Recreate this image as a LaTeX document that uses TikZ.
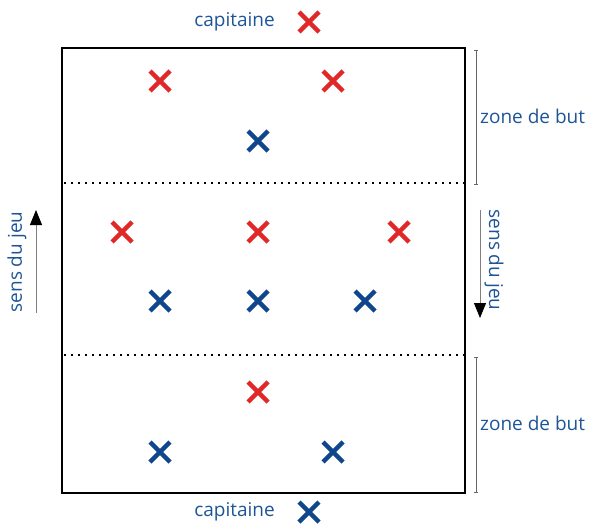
\documentclass[tikz,border=0pt]{standalone}
\usepackage{fontspec}
\setmainfont{Open Sans}
\usepackage{xcolor}
\usetikzlibrary{positioning}
\usetikzlibrary{arrows.meta,shapes.misc}

\definecolor{txtblue}{RGB}{30,85,150}
\definecolor{xred}{RGB}{225,40,40}
\definecolor{xblue}{RGB}{15,70,140}

\tikzset{
	redx/.style={cross out,draw=xred,line width=4.5pt,minimum size=15.5pt,inner sep=0pt},
	bluex/.style={cross out,draw=xblue,line width=4.5pt,minimum size=15.5pt,inner sep=0pt},
	lbl/.style={text=txtblue,font=\fontsize{19}{22}\selectfont,inner sep=0pt},
	zone/.style={gray!80!black,line width=0.8pt,{Bar[width=4pt]}-{Bar[width=4pt]}},
	sens/.style={gray,line width=0.9pt,-{Triangle[black,length=15pt,width=12pt]}}
}

\begin{document}
\begin{tikzpicture}[x=1pt,y=-1pt]
		\useasboundingbox (0,0) rectangle (589,524);
		% terrain
		\node[draw,line width=2pt,minimum width=403pt,minimum height=445pt,inner sep=0pt] (field) at (263.5,270.5) {};
		\coordinate (d1w) at (64,183);
		\coordinate (d1e) at (465,183);
		\coordinate (d2w) at (64,355);
		\coordinate (d2e) at (465,355);
		\draw[line width=2pt,dash pattern=on 2pt off 5pt] (d1w) -- (d1e);
		\draw[line width=2pt,dash pattern=on 2pt off 5pt] (d2w) -- (d2e);
		
		% joueurs
		\node[redx] (r1) at (160,81) {};
		\node[redx] (r2) at (333,81) {};
		\node[redx] (r3) at (122,232) {};
		\node[redx] (r4) at (258,232) {};
		\node[redx] (r5) at (399,232) {};
		\node[redx] (r6) at (258,392) {};
		\node[bluex] (b1) at (258,141) {};
		\node[bluex] (b2) at (160,301) {};
		\node[bluex] (b3) at (258,301) {};
		\node[bluex] (b4) at (365,301) {};
		\node[bluex] (b5) at (160,452) {};
		\node[bluex] (b6) at (333,452) {};
		
		% capitaines
		\node[redx] (rc) at (309,22) {};
		\node[lbl] (rcl) [left = 24pt of rc] {capitaine};
		\node[bluex] (bc) at (309,512) {};
		\node[lbl] (bcl) [left = 24pt of bc] {capitaine};
		
		% zones de but
		\coordinate (z1a) at (476,50);
		\coordinate (z1b) at (476,185);
		\coordinate (z2a) at (476,357);
		\coordinate (z2b) at (476,493);
		\draw[zone] (z1a) -- (z1b);
		\draw[zone] (z2a) -- (z2b);
		\node[lbl,anchor=west] (zb1) at (480,116) {zone de but};
		\node[lbl,anchor=west] (zb2) at (480,423) {zone de but};
		
		% sens du jeu
		\coordinate (s1a) at (36,313);
		\coordinate (s1b) at (36,210);
		\coordinate (s2a) at (480,210);
		\coordinate (s2b) at (480,318);
		\draw[sens] (s1a) -- (s1b);
		\draw[sens] (s2a) -- (s2b);
		\node[lbl,rotate=90] (sj1) at (17,262) {sens du jeu};
		\node[lbl,rotate=-90] (sj2) at (494,260) {sens du jeu};
	\end{tikzpicture}
\end{document}
